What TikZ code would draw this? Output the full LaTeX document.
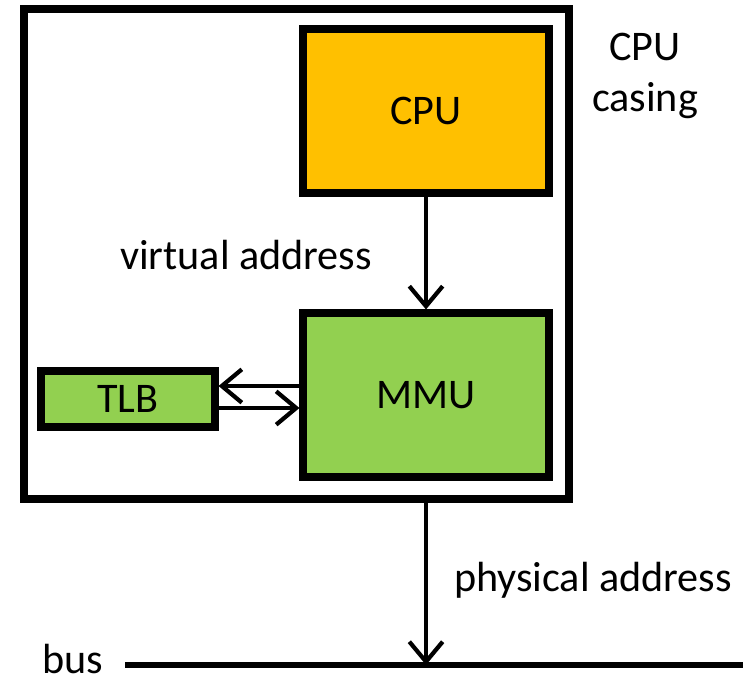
\documentclass[tikz,border=0pt]{standalone}
\usepackage{fontspec}
\setmainfont{Carlito}
\usetikzlibrary{arrows.meta}
\definecolor{cpuorange}{HTML}{FFC000}
\definecolor{mmugreen}{HTML}{92D050}
\begin{document}
\begin{tikzpicture}
    [%%%%%%%%%%%%%%%%%%%%%%%%%%%%%%
        x=0.03cm, y=-0.03cm,
        box/.style={rectangle,draw=black,line width=6pt,inner sep=0pt,
            font=\fontsize{36}{43}\selectfont},
        txt/.style={font=\fontsize{36}{43}\selectfont,inner sep=0pt},
        arr/.style={line width=3.6pt,-{Straight Barb[length=0.6cm,width=1cm]}},
    ]%%%%%%%%%%%%%%%%%%%%%%%%%%%%%%

\useasboundingbox (0,0) rectangle (743,685);

\node[box,line width=7.5pt,minimum width=16.35cm,minimum height=14.7cm] (casing) at (296.5,254){};
\node[box,fill=cpuorange,minimum width=7.38cm,minimum height=4.92cm] (cpu) at (426,111){CPU};
\node[box,fill=mmugreen,minimum width=7.38cm,minimum height=4.92cm] (mmu) at (426,395){MMU};
\node[box,fill=mmugreen,minimum width=5.22cm,minimum height=1.68cm] (tlb) at (128,399){TLB};

\node[txt,align=center] (casinglabel) at (645,76){CPU\\casing};
\node[txt] (virt) at (246,255){virtual address};
\node[txt] (phys) at (593,580){physical address};
\node[txt] (bus) at (73,659){bus};

\coordinate (busL) at (125,665);
\coordinate (busR) at (743,665);
\draw[line width=4.5pt] (busL) -- (busR);

\draw[arr] (cpu.south) -- (mmu.north);
\draw[arr] (mmu.west |- 0,386) -- (tlb.east |- 0,386);
\draw[arr] (tlb.east |- 0,408) -- (mmu.west |- 0,408);
\draw[arr] (mmu.south |- casing.south) -- (mmu.south |- busL);
\end{tikzpicture}
\end{document}
